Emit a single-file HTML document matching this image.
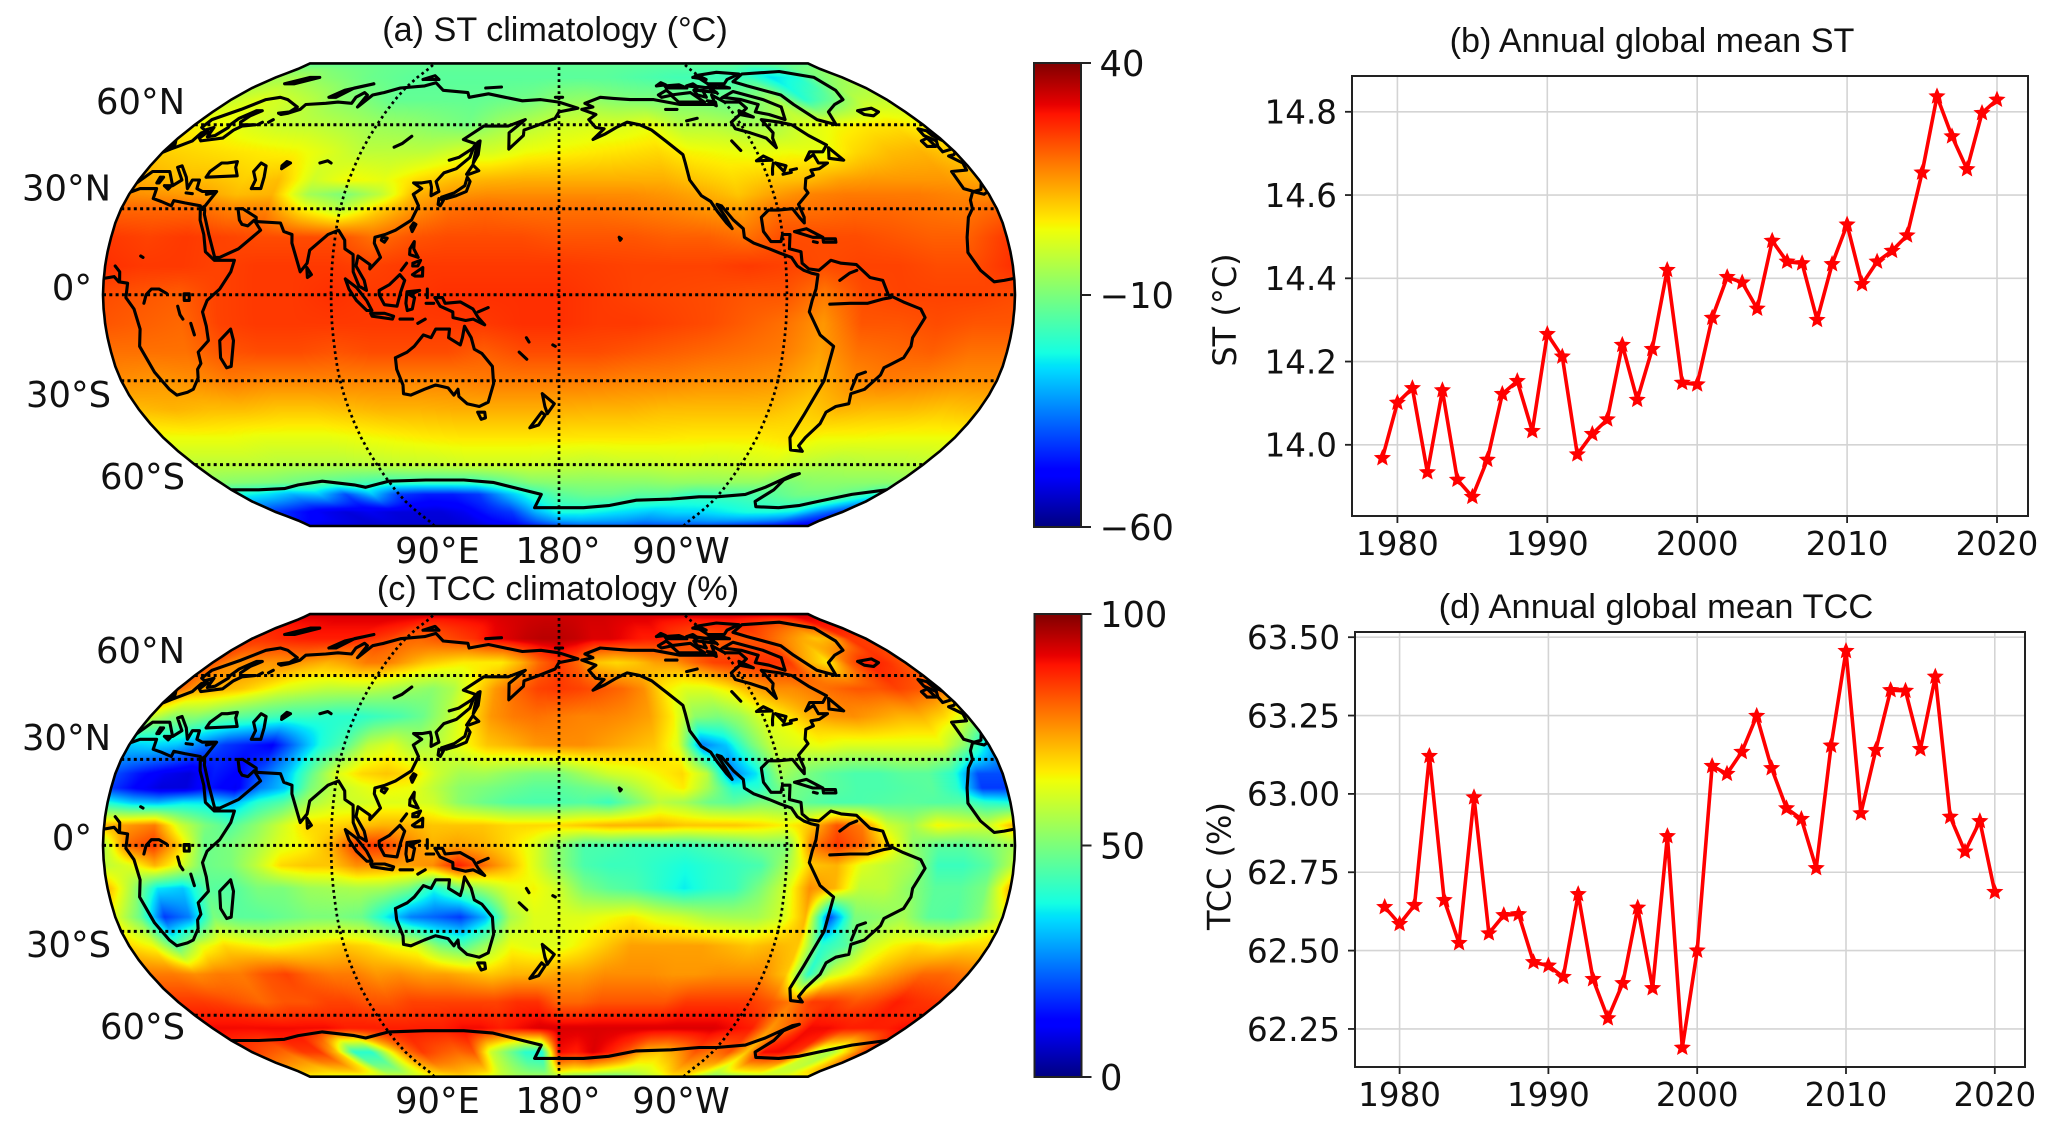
<!DOCTYPE html>
<html lang="en">
<head>
<meta charset="utf-8">
<title>ST and TCC climatology with annual global means</title>
<style>
html,body{margin:0;padding:0;background:#fff;width:2067px;height:1144px;overflow:hidden}
#figure{position:relative;width:2067px;height:1144px;background:#fff}
canvas{position:absolute;display:block}
svg{position:absolute;left:0;top:0}
text{fill:#111;font-family:"DejaVu Sans",sans-serif}
.title{font-family:"Liberation Sans",sans-serif;text-anchor:middle}
.tick{font-size:35.3px}
</style>
</head>
<body>
<div id="figure">
<canvas id="map-a-canvas"></canvas>
<canvas id="map-c-canvas"></canvas>
<svg id="plot" width="2067" height="1144" viewBox="0 0 2067 1144" xmlns="http://www.w3.org/2000/svg">
  <text class="title" x="555" y="41" font-size="34.2">(a) ST climatology (°C)</text>
  <text class="title" x="558" y="600" font-size="34.2">(c) TCC climatology (%)</text>
  <text class="title" x="1652" y="52" font-size="34.2">(b) Annual global mean ST</text>
  <text class="title" x="1656" y="618" font-size="34.5">(d) Annual global mean TCC</text>

  <g class="tick" text-anchor="end">
    <text x="185" y="114">60°N</text>
    <text x="111" y="200.5">30°N</text>
    <text x="92" y="300">0°</text>
    <text x="111" y="407">30°S</text>
    <text x="185" y="489">60°S</text>
  </g>
  <g class="tick" text-anchor="middle">
    <text x="437.5" y="563">90°E</text>
    <text x="558" y="563">180°</text>
    <text x="681" y="563">90°W</text>
  </g>
  <g class="tick" text-anchor="end">
    <text x="185" y="663">60°N</text>
    <text x="111" y="750">30°N</text>
    <text x="92" y="850">0°</text>
    <text x="111" y="957">30°S</text>
    <text x="185" y="1039">60°S</text>
  </g>
  <g class="tick" text-anchor="middle">
    <text x="437.5" y="1113">90°E</text>
    <text x="558" y="1113">180°</text>
    <text x="681" y="1113">90°W</text>
  </g>

  <text font-size="32" transform="translate(1236,310) rotate(-90)" text-anchor="middle">ST (°C)</text>
  <text font-size="32" transform="translate(1230.5,866) rotate(-90)" text-anchor="middle">TCC (%)</text>
</svg>
</div>
<script>
/* ---------- line chart data ---------- */
const years = [1979,1980,1981,1982,1983,1984,1985,1986,1987,1988,1989,1990,1991,1992,1993,1994,1995,1996,1997,1998,1999,2000,2001,2002,2003,2004,2005,2006,2007,2008,2009,2010,2011,2012,2013,2014,2015,2016,2017,2018,2019,2020];
const stValues = [13.968,14.101,14.136,13.934,14.131,13.916,13.875,13.964,14.122,14.153,14.033,14.266,14.212,13.977,14.026,14.061,14.24,14.108,14.23,14.42,14.149,14.145,14.305,14.403,14.39,14.327,14.49,14.44,14.436,14.30,14.434,14.529,14.386,14.44,14.466,14.503,14.654,14.837,14.741,14.662,14.797,14.829];
const tccValues = [62.639,62.585,62.645,63.121,62.661,62.524,62.989,62.555,62.613,62.616,62.463,62.452,62.416,62.68,62.409,62.284,62.396,62.637,62.38,62.865,62.19,62.5,63.089,63.064,63.134,63.249,63.082,62.954,62.92,62.763,63.154,63.456,62.938,63.14,63.331,63.329,63.143,63.374,62.927,62.816,62.913,62.687];
const yearTicks = [1980,1990,2000,2010,2020];
const stTicks = [14.0,14.2,14.4,14.6,14.8];
const tccTicks = [62.25,62.50,62.75,63.00,63.25,63.50];
const stColorbarTicks = ["40","\u221210","\u221260"];
const tccColorbarTicks = ["100","50","0"];
const parallels = [60,30,0,-30,-60];
const meridians = [90,180,270];

/* ---------- surface temperature field (deg C); columns every 15 deg from lon 0 ---------- */
const stLats = [90,80,70,60,50,40,35,30,20,10,0,-10,-20,-30,-40,-50,-60,-67,-72,-80,-90];
const stField = [
[-13,-13,-13,-13,-13,-13,-13,-13,-13,-13,-13,-13,-13,-13,-13,-13,-13,-13,-13,-13,-13,-13,-13,-13],
[-5,-5,-8,-10,-12,-13,-14,-14,-14,-14,-14,-14,-14,-14,-14,-15,-16,-17,-17,-18,-18,-25,-22,-10],
[-1,2,0,-3,-8,-10,-13,-13,-13,-13,-12,-11,-8,-7,-9,-10,-10,-11,-12,-10,-5,-20,-12,-2],
[5,4,1,-1,-2,-4,-6,-7,-9,-11,-6,-3,0,1,1,3,-3,-3,-5,-5,1,4,6,7],
[9,8,7,6,5,2,-2,-2,-2,1,1,4,5,6,7,8,5,4,3,4,3,8,11,12],
[13,11,11,9,11,0,5,3,8,11,12,12.5,12.5,12.5,12.5,12.5,10,8,10,11,14,15,15,15],
[16,15,14,11,12,-5,-10,-2,12,15,16,16,16,16,16,15,13,10,14,17,18,18,18,17],
[20,20,20,17,17,5,-3,8,15,19,20,19,19,19,18,17,15,14,19,19,20,20,19,18],
[25,24,25,24,23,23,23,19,22,23,23,23,22,22,22,21,21,19,23,23,23,22,21,21],
[26,25,25,24,25,25,25,24,25,25,25,25,25,24.5,24,24,24,25,24,23,24,24,23,23],
[23,22,21,24,25,25,26,25,25,26,26,26,26,25,24,23.5,23,22,22,18,23,24,24,24],
[22,21,20,24,25,25,25,25,25,25,25,26,26,25,25,24,23,21,19,15,22,22,23,22],
[19,19,19,22,23,23,22,23,23,23,21,23,23,23,22,21,20,19,18,14,19,20,21,19],
[16,15,16,18,17,17,17,17,17,17,18,18,18,18,17,17,16,16,15,12,16,18,17,16],
[11,12,11,11,10,10,11,12,12,12.5,12.5,12.5,12.5,12,12,11,11,11,11,9,12,11,11,10],
[4,4,4,3,3,3,4,5,6,6.5,6.5,6.5,6.5,6.5,6.5,6.5,6,6,6,7,4.5,4.5,4,4],
[-2,-2,-2,-3,-3,-3,-2,-1,-1,0,0,0,-1,-2,-1,-1,0,-1,0,1,-2,-4,-3,-3],
[-8,-9,-10,-12,-14,-16,-18,-18,-18,-18,-14,-9,-8,-8,-8,-8,-7,-7,-7,-7,-10,-8,-8,-8],
[-22,-25,-30,-28,-40,-28,-42,-45,-45,-42,-30,-20,-14,-12,-12,-14,-14,-18,-17,-16,-14,-11,-11,-14],
[-42,-46,-50,-52,-50,-52,-52,-52,-50,-45,-42,-30,-22,-22,-24,-26,-28,-26,-26,-24,-22,-22,-24,-34],
[-50,-52,-52,-53,-53,-53,-53,-53,-52,-50,-48,-44,-40,-38,-38,-38,-40,-40,-40,-40,-42,-44,-46,-48]
];

/* ---------- total cloud cover field (%); columns every 10 deg from lon 0 ---------- */
const tccLats = [90,75,65,55,45,35,25,20,15,7,0,-7,-15,-25,-35,-45,-55,-65,-75,-90];
const tccField = [
[93,93,93,93,93,93,93,93,93,93,93,93,93,93,93,93,93,93,93,93,93,93,93,93,93,93,93,93,93,93,93,93,93,93,93,93],
[85,86,87,88,88,88,88,86,84,80,80,82,84,86,90,92,94,95,95,94,92,92,90,88,88,84,82,80,82,82,82,78,74,70,72,85],
[82,76,76,75,76,74,72,74,78,78,74,70,68,66,66,66,72,80,85,80,70,68,70,74,75,80,84,85,86,86,85,72,66,80,88,86],
[80,74,72,70,66,62,60,58,58,58,56,54,52,56,66,75,80,84,85,84,82,80,76,66,62,62,66,72,76,76,78,80,82,82,84,82],
[60,52,52,48,46,44,42,42,40,40,42,44,48,56,66,75,78,79,78,77,77,76,74,66,52,50,54,62,66,72,75,76,74,72,72,68],
[32,34,32,25,18,15,12,25,38,45,58,62,55,58,64,70,72,75,76,76,74,72,70,62,25,32,48,60,62,64,62,62,62,62,62,52],
[20,14,10,8,15,12,22,32,48,62,68,70,68,60,55,55,52,50,50,55,60,62,65,68,58,25,35,55,50,46,44,44,46,46,40,20],
[18,12,8,8,14,10,25,32,50,58,62,65,64,58,52,50,48,46,46,48,50,56,62,66,55,40,40,50,48,46,44,44,45,46,40,18],
[38,32,30,35,35,30,40,45,55,60,60,62,62,60,52,48,45,44,44,45,42,50,58,55,48,46,50,50,46,44,44,45,46,45,45,40],
[72,75,78,60,50,45,52,60,68,68,70,72,72,70,70,70,68,68,68,70,72,72,72,70,70,70,68,65,70,82,78,60,55,65,62,60],
[55,80,85,70,48,50,55,62,65,72,85,85,78,72,74,72,68,62,52,44,44,42,42,42,44,46,50,50,78,85,80,68,52,46,46,50],
[58,62,72,62,48,50,58,68,70,70,76,75,74,76,88,80,72,62,52,44,42,42,40,38,40,42,44,55,70,72,62,58,55,42,42,46],
[72,55,35,32,46,45,50,50,54,55,56,55,50,38,48,55,62,65,60,50,46,44,40,36,40,42,50,60,76,72,58,58,52,46,46,50],
[62,48,18,25,50,46,46,48,50,50,48,36,25,22,18,30,55,62,62,62,64,66,62,60,56,55,55,60,72,20,50,52,55,46,45,50],
[68,64,45,62,68,66,64,66,68,70,68,64,62,50,45,55,64,62,62,66,70,74,74,74,74,72,70,72,70,40,45,60,65,68,66,68],
[78,78,76,78,78,82,84,80,78,78,75,76,74,74,72,70,72,72,74,74,76,76,76,75,75,76,76,76,70,40,60,66,72,76,80,80],
[85,85,84,82,80,82,82,84,84,82,82,84,84,84,84,84,86,86,80,80,82,82,82,82,85,85,85,85,82,78,85,85,82,84,88,86],
[90,90,90,90,90,90,90,88,88,88,88,88,88,90,90,88,90,92,92,92,92,92,92,92,92,92,92,90,88,75,80,90,90,88,88,88],
[85,82,80,85,85,70,40,40,62,78,85,82,80,82,60,50,40,38,90,88,92,88,82,72,70,75,82,78,82,70,90,90,85,60,55,70],
[65,64,63,62,62,61,60,60,62,65,66,68,66,62,58,55,55,55,55,52,50,48,48,52,56,60,66,68,58,52,52,55,58,60,62,64]
];

/* ---------- coastlines as lon,lat pairs (rough, in degrees) ---------- */
const coastlines = {
"africa":[-6,36,-2,35,3,37,10,37,11,33.5,15,32.5,20,31,20,32.8,25,32,32,31,32.5,30,34,26,37,21,39,15,43,12,51,12,50,8,46,2,41,-2,39,-6,40,-11,40,-16,35,-20,35,-24,33,-26,32,-29,28,-33,25,-34,20,-35,18,-33,15,-27,12,-18,13.5,-12,12,-5,9,-1,9.5,4,6,4.5,4,6.3,0,5.7,-4,5,-8,4.5,-13,8.5,-17,14.7,-16,20,-13,27,-10,30,-9,33,-6,36],
"eurasia":[-9,37,-9,43,-2,43.5,-1,46,-4.5,48.5,-1.5,49,2,51,4,52,8,54,8,57,10.5,57.5,10,55,12,54,18,54.7,21,55,22,58,24,59.5,30,60,23,60,21,61,22,63.5,25,65.5,22,65.5,18,62.5,17.5,60,18,59,16,56,13,55.5,11,59,8,58,5,59,5,62,13,66,19,70,25,71,31,70,41,67,40,65,35,64.5,37,64,40,64.5,44,66,44,68,54,68.5,60,69,68,68.5,67,71,69,73,72,72,73,67,75,72,80,73,87,75,100,76,105,77.5,113,74,128,73,130,71,140,72.5,150,71,160,69.5,170,70,180,69,190,66.5,180,65,178,62.5,170,60,163,58,163,56,157,51,156,57,163,62,155,59.5,143,59.5,135,54.5,141,53,140,48,135,44,130,42.5,127.5,39.5,129.5,36,126.5,34.5,126,37.5,125,39.5,121.5,39,118,39,122,37,119,35,122,31,120,26,114,22.5,110,21,106,20,106,18,109,13,105,9,105,10.5,100,13.5,99.5,10,103,5,104,1.5,101,3,98.5,8,98,14,94.5,16,94,19,91,22.5,87,21,80.5,15.5,80,11,77.5,8,73,18,72.5,21,69,22,67,25,57,25.5,56.5,27,50,30,48,30,50,26,51.5,24.5,54,24,56,26,59.5,22.5,52,16,45,13,43,13,39,21,35,28,34.5,29.5,32.5,30,34,31,36,36,30,36,27,37,26,40,23,40,23,37,19.5,41,14,45,12.5,44.5,18.5,40,16,38,10.5,43,3,43,0,39,-2,36.7,-5.5,36,-9,37],
"north-america":[-168,66,-162,67,-166,68.5,-157,71,-150,70.5,-141,70,-128,70,-115,68,-108,68,-96,68,-94,72,-90,69,-82,69,-81,66.5,-87,64,-94,61,-94,58.5,-88,57,-82,55,-80,51.5,-79,55,-77,57,-78,62,-70,61,-65,60,-61,56,-56,52.5,-60,50,-66,50,-70,47,-65,49,-65,46,-61,46,-66,44,-70,43.5,-70,41.7,-74,40.5,-76,37,-75.5,35.5,-81,31.5,-80,27,-80.5,25,-82,27,-84,30,-90,29.5,-94,29.5,-97.5,27,-97.5,22,-95,18.5,-91,18.5,-90,21,-87,21,-88,16,-83.5,15,-83.5,11,-81,9,-77,8.5,-72,12,-68,11,-62,10.5,-57,6,-52,5,-50,0,-44,-2.5,-37,-5,-35,-8,-39,-15,-39,-18,-41,-22,-48,-25.5,-48.5,-28,-53,-33,-58,-34.5,-57,-38,-62,-39,-65,-41,-65,-45,-68,-50,-68.5,-53,-65,-55,-71,-54.5,-75,-50,-74,-42,-73,-37,-71,-30,-70,-18,-76,-14,-81,-6,-80,-2,-78.5,2,-77.5,7,-80,7.5,-83,8.5,-85.5,10,-87.5,13,-92,14.5,-96,16,-102,18,-105.5,20,-105.5,23,-109,26,-113,31,-114.7,31.5,-112,27,-110,23,-112,25,-115,29,-117,32.5,-120.5,34.5,-124,40,-124,46,-124,49,-130,54,-135,58,-140,60,-146,61,-152,59,-158,56.5,-164,54.5,-158,58.5,-162,59,-165,62,-161,64,-168,66],
"cuba":[-85,22,-80,23,-74,20,-78,20,-85,22],
"hispaniola":[-74,19.5,-69,19.5,-69,18.3,-74,18.3,-74,19.5],
"jamaica":[-78,18.5,-76.5,18.2],
"newfoundland":[-59,47.7,-56,51.5,-53,47,-59,47.7],
"baffin":[-62,67,-66,62,-72,64,-78,65,-73,68,-80,70,-89,71,-80,73.5,-68,70,-62,67],
"victoria":[-117,72,-105,73,-101,69,-115,69,-117,72],
"banks":[-124,72,-118,74,-116,72,-123,71,-124,72],
"ellesmere":[-90,77,-80,77,-75,79,-62,82,-75,83,-92,81,-90,77],
"devon":[-95,75,-80,75,-85,76.5,-95,75],
"melville":[-117,75,-105,75,-108,76.5,-117,76,-117,75],
"southampton":[-87,64,-81,63,-86,65.5,-87,64],
"axel-heiberg":[-95,80,-88,79,-90,81,-95,80],
"somerset":[-100,74,-90,73,-92,75,-100,76,-100,74],
"prince-of-wales":[-102,72,-98,71,-97,74,-102,74,-102,72],
"bathurst":[-104,76,-98,75.5,-99,77,-104,76],
"king-william":[-99,69.5,-95,69,-96,67.5,-99,69.5],
"prince-patrick":[-122,76,-116,76.5,-118,77.5,-122,76],
"greenland":[-73,78,-60,82,-32,83.5,-18,80,-20,74,-24,70,-32,68,-40,65,-43,60,-50,62,-54,68,-55,72,-68,76,-73,78],
"iceland":[-24,65.5,-15,66.5,-14,65,-19,63.5,-23,64,-24,65.5],
"great-britain":[-5.5,50,1.5,51.3,1.7,52.7,-2,56,-2,57.7,-5,58.5,-6,56,-3,54,-5,52,-5.5,50],
"ireland":[-10,52,-6,52,-6,55,-10,54,-10,52],
"svalbard":[14,77,22,80,28,80,20,77,14,77],
"novaya-zemlya":[52,71,56,74,68,77,60,75,56,71,52,71],
"severnaya-zemlya":[95,79,105,79,100,81,95,79],
"new-siberian":[137,75,146,75.5],
"wrangel":[178,71,182,71],
"sakhalin":[142,46,143.5,49,143,54,142,53.5,142,48,142,46],
"honshu":[131,34,136,35.5,140,38,140.5,41,142,39.5,141,36,137,34.5,133,33.5,131,34],
"hokkaido":[140,42,142,45.3,145,43.3,141,42,140,42],
"kyushu":[130,33.5,132,33,131,31,130,31.5,130,33.5],
"taiwan":[121,25,122,24.5,120.8,22,120,23.5,121,25],
"hainan":[109,20,111,19.7,110,18.3,108.7,19,109,20],
"luzon":[120.5,16,122,18.5,122,16,124,13,120.5,14,120.5,16],
"visayas":[122,11,125,12,124,10,122,10,122,11],
"mindanao":[122,7,126,9.5,126,6.5,123,6.5,122,7],
"palawan":[117.5,8.5,119.5,11],
"sumatra":[95.5,5.5,100,2.5,104,-2,106,-5.5,104,-5.5,100,-2,97,2,95.5,5.5],
"java":[105.5,-6.5,111,-6.5,114.5,-7.5,114,-8.5,106,-7.5,105.5,-6.5],
"borneo":[109,1.5,113,3.5,117,7,119,5,117.5,1,116,-4,111,-3.5,109,0,109,1.5],
"sulawesi":[120,1,125,1.5,121,0,123,-1,122,-5,120,-5.5,119.5,-3,120,1],
"halmahera":[128,2,128,-1],
"timor":[124,-10,127,-8.5],
"flores":[117,-8.5,122,-8.5],
"seram":[127.5,-3,130.5,-3],
"new-guinea":[131,-1,134,-1,135,-3,141,-2.5,146,-5,148,-8,150.5,-10.5,146,-8.5,143,-9,138,-8,138,-6,133,-4,131,-1],
"new-britain":[148,-6,152,-4.5],
"australia":[114,-22,114,-26,115.5,-31.5,115,-34.5,118,-35,124,-33,129,-31.5,134,-32.5,136,-35,138,-33,138,-35.5,141,-38,146,-39,150,-37.5,153,-31,153,-25,149,-20.5,146,-19,145,-15,142.5,-11,141.5,-15,140.5,-17.5,136,-15,136.5,-12,131,-12,129,-15,126,-14,122,-18,119,-20,114,-22],
"tasmania":[145,-41,148,-41,148,-43,146,-43.5,145,-41],
"nz-north":[173,-34.5,178,-38,175,-41.5,174,-39,173,-34.5],
"nz-south":[172.5,-41,174,-42,171,-45.5,167,-46.5,172.5,-41],
"new-caledonia":[164,-20,167,-22.5],
"vanuatu":[167,-15,168,-16.5],
"fiji":[177.5,-17.5,178.5,-18],
"hawaii":[-155.8,20,-155,19.5,-155.5,19,-155.8,20],
"sri-lanka":[80,9.5,82,7,80.5,6,80,9.5],
"madagascar":[49.5,-12,50,-16,47,-25,45,-25.5,43.5,-22,44.5,-16,49.5,-12],
"sicily":[12.5,38,15.5,38,15,36.8,12.5,38],
"sardinia":[8.3,41,9.7,41,9.5,39,8.5,39,8.3,41],
"crete":[23.5,35.5,26.3,35.2],
"cyprus":[32.3,35,34.5,35.4],
"black-sea":[28,41,41,41.5,38,44.5,37,46.5,33,46,30.5,46,28,43,28,41],
"caspian-sea":[50,37,54,37,53,41,51,45,48,46,47,43,50,40,50,37],
"aral-sea":[58.5,44,61,46,59,46.5,58,45,58.5,44],
"lake-balkhash":[74,46,77,46.8,79,46],
"lake-baikal":[104,51.7,107,53,110,55.7],
"lake-ladoga":[31,60,32,61],
"lake-onega":[35,61,36,62],
"amur":[131,47,135,48,140,51,142,53],
"lake-chad":[13.5,13.5,14.5,13],
"lake-victoria":[32,-2,34,-2,34,0.3,32,0.3,32,-2],
"lake-tanganyika":[29.3,-4,30,-7,31,-8.5],
"lake-malawi":[34,-10,34.8,-14],
"congo-river":[16,-3,17,0,19,2,22,2,25,0.5],
"niger-river":[4,10,6,8,6.3,5],
"lake-great-bear":[-124,66,-118,66],
"lake-great-slave":[-116,61.5,-110,62.5],
"lake-winnipeg":[-99,54,-97,50.5],
"lake-superior":[-92,46.8,-85,47,-88,48.5,-92,46.8],
"lake-michigan":[-87.5,42,-86.5,44,-85,46],
"lake-huron":[-84,46,-82,43,-80,45,-84,46],
"lake-erie-ontario":[-83,42,-79,42.7,-79,43.5,-76,44],
"amazon-river":[-73,-3.3,-65,-3,-58,-3,-52,-1.5,-49,-1],
"orinoco-river":[-69,5,-65,7.5,-62,8.5],
"parana-river":[-58.5,-33,-58,-28,-55,-27],
"antarctica":[0,-70,15,-70,30,-69.5,40,-68,55,-66.5,70,-68,75,-69,90,-66.5,110,-66,130,-66,145,-67,160,-70,170,-72,165,-78,180,-78,-165,-78,-150,-77,-135,-74.5,-115,-74,-100,-73,-90,-73,-75,-72,-68,-69,-60,-64,-57,-63.5,-62,-66,-62,-70,-65,-75,-60,-77.5,-45,-78,-35,-77,-28,-75,-15,-72,0,-70]
};

/* ---------- Robinson projection table (5 deg steps) ---------- */
const ROB_Y = [0,.062,.124,.186,.248,.31,.372,.434,.4958,.5571,.6176,.6769,.7346,.7903,.8435,.8936,.9394,.9761,1];
const ROB_L = [1,.9986,.9954,.99,.9822,.973,.96,.9427,.9216,.8962,.8679,.835,.7986,.7597,.7186,.6732,.6213,.5722,.546];

function robLookup(table, lat) {
  const a = Math.min(Math.abs(lat), 90) / 5;
  const i = Math.min(Math.floor(a), 17);
  return table[i] + (table[i + 1] - table[i]) * (a - i);
}
function project(map, lon, lat) {
  const x = map.cx + map.hw * robLookup(ROB_L, lat) * (lon - 180) / 180;
  const y = map.cy - map.hh * robLookup(ROB_Y, lat) * (lat < 0 ? -1 : 1);
  return [x, y];
}
function latFromY(Y) {
  const a = Math.abs(Y);
  let i = 0;
  while (i < 17 && ROB_Y[i + 1] < a) i++;
  return 5 * (i + (a - ROB_Y[i]) / (ROB_Y[i + 1] - ROB_Y[i]));
}
function jetPart(pts, t) {
  for (let i = 1; i < pts.length; i++) {
    if (t <= pts[i][0]) {
      const p = pts[i - 1], q = pts[i];
      return p[1] + (q[1] - p[1]) * (t - p[0]) / (q[0] - p[0]);
    }
  }
  return pts[pts.length - 1][1];
}
const JET_R = [[0,0],[.35,0],[.66,1],[.89,1],[1,.5]];
const JET_G = [[0,0],[.125,0],[.375,1],[.64,1],[.91,0],[1,0]];
const JET_B = [[0,.5],[.11,1],[.34,1],[.65,0],[1,0]];
function jet(t) {
  t = Math.max(0, Math.min(1, t));
  return [jetPart(JET_R, t) * 255, jetPart(JET_G, t) * 255, jetPart(JET_B, t) * 255];
}

/* ---------- map layer ---------- */
const SVGNS = "http://www.w3.org/2000/svg";
const plot = document.getElementById("plot");
function mk(tag, parent) {
  const el = document.createElementNS(SVGNS, tag);
  parent.appendChild(el);
  return el;
}

function paintField(canvasId, map, lats, field, vmin, vmax) {
  const left = Math.floor(map.cx - map.hw) - 2;
  const top = Math.floor(map.cy - map.hh) - 2;
  const W = Math.ceil(map.hw * 2) + 4;
  const H = Math.ceil(map.hh * 2) + 4;
  const cv = document.getElementById(canvasId);
  cv.width = W; cv.height = H;
  cv.style.left = left + "px"; cv.style.top = top + "px";
  const ctx = cv.getContext("2d");
  const img = ctx.createImageData(W, H);
  const ncol = field[0].length;
  const step = 360 / ncol;
  for (let py = 0; py < H; py++) {
    const Y = (map.cy - (top + py + .5)) / map.hh;
    if (Math.abs(Y) > 1) continue;
    const lat = latFromY(Y) * (Y < 0 ? -1 : 1);
    const L = robLookup(ROB_L, lat);
    let r = 0;
    while (r < lats.length - 2 && lats[r + 1] > lat) r++;
    const fy = (lats[r] - lat) / (lats[r] - lats[r + 1]);
    for (let px = 0; px < W; px++) {
      const X = (left + px + .5 - map.cx) / (map.hw * L);
      if (Math.abs(X) > 1) continue;
      const lon = Math.min(359.999, Math.max(0, 180 + X * 180));
      const c0 = Math.floor(lon / step);
      const c1 = (c0 + 1) % ncol;
      const fx = lon / step - c0;
      const a = field[r][c0] + (field[r][c1] - field[r][c0]) * fx;
      const b = field[r + 1][c0] + (field[r + 1][c1] - field[r + 1][c0]) * fx;
      const v = a + (b - a) * fy;
      const col = jet((v - vmin) / (vmax - vmin));
      const k = (py * W + px) * 4;
      img.data[k] = col[0];
      img.data[k + 1] = col[1];
      img.data[k + 2] = col[2];
      img.data[k + 3] = 255;
    }
  }
  ctx.putImageData(img, 0, 0);
}

function outlinePath(map) {
  let d = "";
  for (let lat = -90; lat <= 90; lat += 2.5) {
    const p = project(map, 360, lat);
    d += (d ? "L" : "M") + p[0].toFixed(1) + " " + p[1].toFixed(1);
  }
  for (let lat = 90; lat >= -90; lat -= 2.5) {
    const p = project(map, 0, lat);
    d += "L" + p[0].toFixed(1) + " " + p[1].toFixed(1);
  }
  return d + "Z";
}

function coastPath(map, flat) {
  let d = "";
  let prevLon = null, prevLat = null;
  for (let i = 0; i < flat.length; i += 2) {
    const lon = ((flat[i] % 360) + 360) % 360;
    const lat = flat[i + 1];
    if (prevLon === null) {
      const p = project(map, lon, lat);
      d += "M" + p[0].toFixed(1) + " " + p[1].toFixed(1);
    } else if (Math.abs(lon - prevLon) > 180) {
      const toRight = prevLon > 180;
      const span = toRight ? (360 - prevLon + lon) : (prevLon + 360 - lon);
      const frac = span === 0 ? 0 : (toRight ? (360 - prevLon) : prevLon) / span;
      const midLat = prevLat + (lat - prevLat) * frac;
      const e1 = project(map, toRight ? 360 : 0, midLat);
      const e2 = project(map, toRight ? 0 : 360, midLat);
      const p = project(map, lon, lat);
      d += "L" + e1[0].toFixed(1) + " " + e1[1].toFixed(1);
      d += "M" + e2[0].toFixed(1) + " " + e2[1].toFixed(1);
      d += "L" + p[0].toFixed(1) + " " + p[1].toFixed(1);
    } else {
      const p = project(map, lon, lat);
      d += "L" + p[0].toFixed(1) + " " + p[1].toFixed(1);
    }
    prevLon = lon; prevLat = lat;
  }
  return d;
}

function drawMap(map, prefix) {
  const defs = mk("defs", plot);
  const clip = mk("clipPath", defs);
  clip.setAttribute("id", prefix + "-clip");
  const clipShape = mk("path", clip);
  clipShape.setAttribute("d", outlinePath(map));

  const group = mk("g", plot);
  
  
  group.setAttribute("clip-path", "url(#" + prefix + "-clip)");

  Object.keys(coastlines).forEach(function (name) {
    const path = mk("path", group);
    
    
    path.setAttribute("d", coastPath(map, coastlines[name]));
    path.setAttribute("fill", "none");
    path.setAttribute("stroke", "#000");
    path.setAttribute("stroke-width", "3.1");
    path.setAttribute("stroke-linejoin", "round");
    path.setAttribute("stroke-linecap", "round");
  });

  parallels.forEach(function (lat) {
    let d = "";
    for (let lon = 0; lon <= 360; lon += 10) {
      const p = project(map, lon, lat);
      d += (d ? "L" : "M") + p[0].toFixed(1) + " " + p[1].toFixed(1);
    }
    const line = mk("path", group);
    
    
    line.setAttribute("d", d);
    line.setAttribute("fill", "none");
    line.setAttribute("stroke", "#000");
    line.setAttribute("stroke-width", "3");
    line.setAttribute("stroke-dasharray", "3 3.3");
  });
  meridians.forEach(function (lon) {
    let d = "";
    for (let lat = -90; lat <= 90; lat += 2.5) {
      const p = project(map, lon, lat);
      d += (d ? "L" : "M") + p[0].toFixed(1) + " " + p[1].toFixed(1);
    }
    const line = mk("path", group);
    
    
    line.setAttribute("d", d);
    line.setAttribute("fill", "none");
    line.setAttribute("stroke", "#000");
    line.setAttribute("stroke-width", "2.7");
    line.setAttribute("stroke-dasharray", "2.7 3.3");
  });

  const outline = mk("path", plot);
  
  
  outline.setAttribute("d", outlinePath(map));
  outline.setAttribute("fill", "none");
  outline.setAttribute("stroke", "#000");
  outline.setAttribute("stroke-width", "2.6");
}

function drawColorbar(bar, prefix, labels) {
  const defs = mk("defs", plot);
  const grad = mk("linearGradient", defs);
  grad.setAttribute("id", prefix + "-jet");
  grad.setAttribute("x1", "0"); grad.setAttribute("y1", "1");
  grad.setAttribute("x2", "0"); grad.setAttribute("y2", "0");
  [0,.11,.125,.34,.35,.375,.5,.64,.65,.66,.89,.91,1].forEach(function (t) {
    const st = mk("stop", grad);
    const c = jet(t);
    st.setAttribute("offset", t);
    st.setAttribute("stop-color", "rgb(" + Math.round(c[0]) + "," + Math.round(c[1]) + "," + Math.round(c[2]) + ")");
  });
  const rect = mk("rect", plot);
  
  
  rect.setAttribute("x", bar.x);
  rect.setAttribute("y", bar.y);
  rect.setAttribute("width", bar.w);
  rect.setAttribute("height", bar.h);
  rect.setAttribute("fill", "url(#" + prefix + "-jet)");
  rect.setAttribute("stroke", "#222");
  rect.setAttribute("stroke-width", "2");
  labels.forEach(function (label, i) {
    const y = bar.y + bar.h * i / (labels.length - 1);
    const tick = mk("line", plot);
    
    
    tick.setAttribute("x1", bar.x + bar.w);
    tick.setAttribute("x2", bar.x + bar.w + 10);
    tick.setAttribute("y1", y);
    tick.setAttribute("y2", y);
    tick.setAttribute("stroke", "#222");
    tick.setAttribute("stroke-width", "2");
    const tx = mk("text", plot);
    
    
    tx.setAttribute("class", "tick");
    tx.setAttribute("x", bar.x + bar.w + 18.5);
    tx.setAttribute("y", y + 13);
    tx.textContent = label;
  });
}

const mapA = {cx: 559, cy: 294.7, hw: 456, hh: 231.3};
const mapC = {cx: 559, cy: 845.4, hw: 456, hh: 231.3};
paintField("map-a-canvas", mapA, stLats, stField, -60, 40);
paintField("map-c-canvas", mapC, tccLats, tccField, 0, 100);
drawMap(mapA, "st");
drawMap(mapC, "tcc");
drawColorbar({x: 1034, y: 63, w: 47, h: 464}, "st", stColorbarTicks);
drawColorbar({x: 1034.5, y: 614, w: 47, h: 463}, "tcc", tccColorbarTicks);

/* ---------- line charts ---------- */
function starPoints(cx, cy, R, r) {
  const pts = [];
  for (let i = 0; i < 10; i++) {
    const a = -Math.PI / 2 + i * Math.PI / 5;
    const rad = i % 2 ? r : R;
    pts.push((cx + rad * Math.cos(a)).toFixed(1) + "," + (cy + rad * Math.sin(a)).toFixed(1));
  }
  return pts.join(" ");
}

function drawLineChart(cfg) {
  const sx = cfg.sx, sy = cfg.sy, f = cfg.frame;
  const g = mk("g", plot);
  
  

  yearTicks.forEach(function (yr) {
    const x = sx(yr);
    const gl = mk("line", g);
    
    
    gl.setAttribute("x1", x); gl.setAttribute("x2", x);
    gl.setAttribute("y1", f.t); gl.setAttribute("y2", f.b);
    gl.setAttribute("stroke", "#d4d4d4"); gl.setAttribute("stroke-width", "1.6");
    const tk = mk("line", g);
    
    
    tk.setAttribute("x1", x); tk.setAttribute("x2", x);
    tk.setAttribute("y1", f.b); tk.setAttribute("y2", f.b + 7);
    tk.setAttribute("stroke", "#222"); tk.setAttribute("stroke-width", "1.8");
    const tx = mk("text", g);
    
    
    tx.setAttribute("x", x);
    tx.setAttribute("y", cfg.xLabelY);
    tx.setAttribute("text-anchor", "middle");
    tx.setAttribute("font-size", "32.5");
    tx.textContent = String(yr);
  });

  cfg.yTicks.forEach(function (v) {
    const y = sy(v);
    const gl = mk("line", g);
    
    
    gl.setAttribute("x1", f.l); gl.setAttribute("x2", f.r);
    gl.setAttribute("y1", y); gl.setAttribute("y2", y);
    gl.setAttribute("stroke", "#d4d4d4"); gl.setAttribute("stroke-width", "1.6");
    const tk = mk("line", g);
    
    
    tk.setAttribute("x1", f.l - 7); tk.setAttribute("x2", f.l);
    tk.setAttribute("y1", y); tk.setAttribute("y2", y);
    tk.setAttribute("stroke", "#222"); tk.setAttribute("stroke-width", "1.8");
    const tx = mk("text", g);
    
    
    tx.setAttribute("x", f.l - 15);
    tx.setAttribute("y", y + 11.8);
    tx.setAttribute("text-anchor", "end");
    tx.setAttribute("font-size", "32.5");
    tx.textContent = v.toFixed(cfg.decimals);
  });

  const frame = mk("rect", g);
  
  
  frame.setAttribute("x", f.l); frame.setAttribute("y", f.t);
  frame.setAttribute("width", f.r - f.l); frame.setAttribute("height", f.b - f.t);
  frame.setAttribute("fill", "none");
  frame.setAttribute("stroke", "#222");
  frame.setAttribute("stroke-width", "2");

  const line = mk("polyline", g);
  
  
  line.setAttribute("points", years.map(function (yr, i) {
    return sx(yr).toFixed(1) + "," + sy(cfg.values[i]).toFixed(1);
  }).join(" "));
  line.setAttribute("fill", "none");
  line.setAttribute("stroke", "#ff0000");
  line.setAttribute("stroke-width", "3.6");
  line.setAttribute("stroke-linejoin", "round");

  years.forEach(function (yr, i) {
    const star = mk("polygon", g);
    
    
    star.setAttribute("points", starPoints(sx(yr), sy(cfg.values[i]), 8, 3.6));
    star.setAttribute("fill", "#ff0000");
    star.setAttribute("stroke", "#ff0000");
    star.setAttribute("stroke-width", "0.8");
  });
}

function stX(year) { return 1397.4 + (year - 1980) * 14.99; }
function stY(value) { return 444.8 - (value - 14) * 416.25; }
function tccX(year) { return 1399.6 + (year - 1980) * 14.88; }
function tccY(value) { return 793.9 - (value - 63) * 313.4; }

drawLineChart({name: "st", values: stValues, sx: stX, sy: stY, yTicks: stTicks, decimals: 1,
  frame: {l: 1352, r: 2028, t: 76, b: 516}, xLabelY: 555});
drawLineChart({name: "tcc", values: tccValues, sx: tccX, sy: tccY, yTicks: tccTicks, decimals: 2,
  frame: {l: 1355, r: 2025, t: 632, b: 1067}, xLabelY: 1106});
</script>
</body>
</html>
